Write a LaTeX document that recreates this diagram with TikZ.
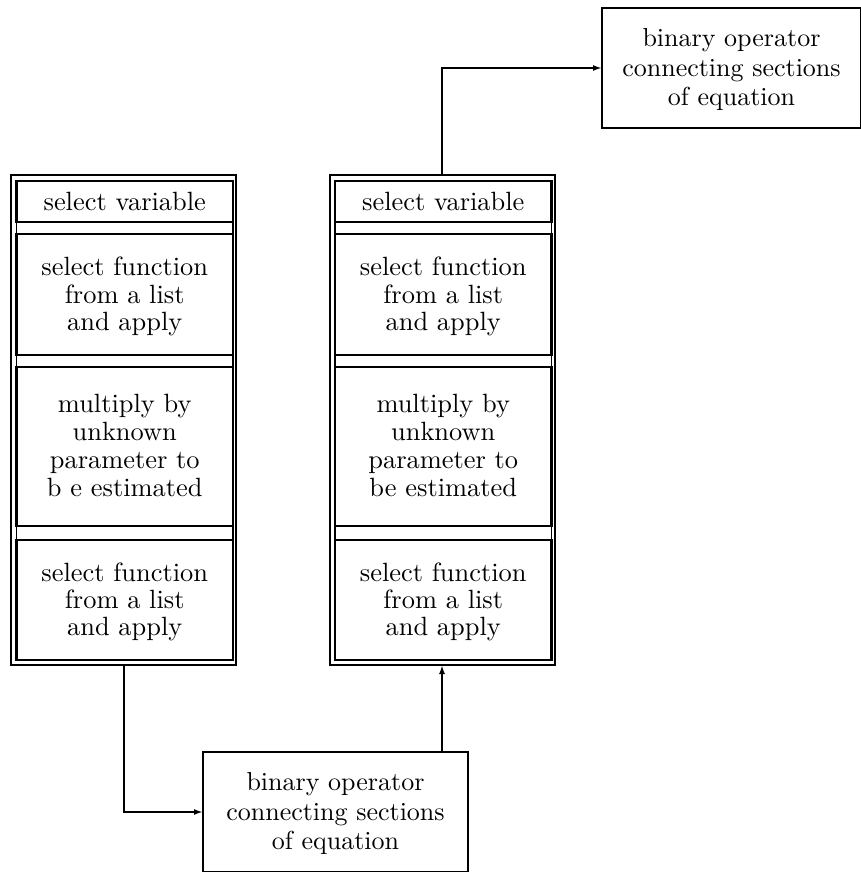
\documentclass[tikz,border=0pt]{standalone}
\usetikzlibrary{arrows.meta}
\newcommand{\sctext}[4]{\scalebox{#1}{\fontsize{10}{#2}\selectfont\raisebox{#3}[\height][\depth]{\begin{tabular}{@{}c@{}}#4\end{tabular}}}}
\newcommand{\ctxt}[1]{\sctext{2.64}{10.35}{-1.2pt}{#1}}
\newcommand{\mtxt}[1]{\sctext{2.64}{10.6}{-1.0pt}{#1}}
\newcommand{\btxt}[1]{\sctext{2.6}{11.35}{-0.9pt}{#1}}
\begin{document}
\begin{tikzpicture}[x=1pt,y=-1pt,
  every node/.style={inner sep=0pt,outer sep=0pt},
  frame/.style={draw,line width=2pt,minimum width=225pt,minimum height=490pt},
  iframe/.style={draw,line width=1.8pt,minimum width=216.5pt,minimum height=479pt},
  cell/.style={draw,line width=2.6pt,minimum width=216.5pt},
  binbox/.style={draw,line width=2pt,minimum height=120pt},
  conn/.style={line width=2pt,-{Latex[length=9pt,width=6pt]}}
]
\useasboundingbox (0,0) rectangle (861,872);
\clip (0,0) rectangle (861,872);
% left column
\node[frame] (colL) at (123.5,420) {};
\node[iframe] (icolL) at (124.75,420.5) {};
\node[cell,minimum height=41pt] (l1) at (124.75,201.5) {\ctxt{select variable}};
\node[cell,minimum height=121pt] (l2) at (124.75,294.5) {\ctxt{select function\\from a list\\and apply}};
\node[cell,minimum height=159pt] (l3) at (124.75,446.5) {\mtxt{multiply by\\unknown\\parameter to\\b e estimated}};
\node[cell,minimum height=120pt] (l4) at (124.75,600) {\ctxt{select function\\from a list\\and apply}};
% right column
\node[frame] (colR) at (442,420) {};
\node[iframe] (icolR) at (443.25,420.5) {};
\node[cell,minimum height=41pt] (r1) at (443.25,201.5) {\ctxt{select variable}};
\node[cell,minimum height=121pt] (r2) at (443.25,294.5) {\ctxt{select function\\from a list\\and apply}};
\node[cell,minimum height=159pt] (r3) at (443.25,446.5) {\mtxt{multiply by\\unknown\\parameter to\\be estimated}};
\node[cell,minimum height=120pt] (r4) at (443.25,600) {\ctxt{select function\\from a list\\and apply}};
% binary operator boxes
\node[binbox,minimum width=265pt] (binB) at (335.5,812) {\btxt{binary operator\\connecting sections\\of equation}};
\node[binbox,minimum width=259pt] (binT) at (731.5,68) {\btxt{binary operator\\connecting sections\\of equation}};
% connectors
\draw[conn] (colL.south) |- (binB.west);
\draw[conn] (colR.south |- binB.north) -- (colR.south);
\draw[conn] (colR.north) |- (binT.west);
\end{tikzpicture}
\end{document}
